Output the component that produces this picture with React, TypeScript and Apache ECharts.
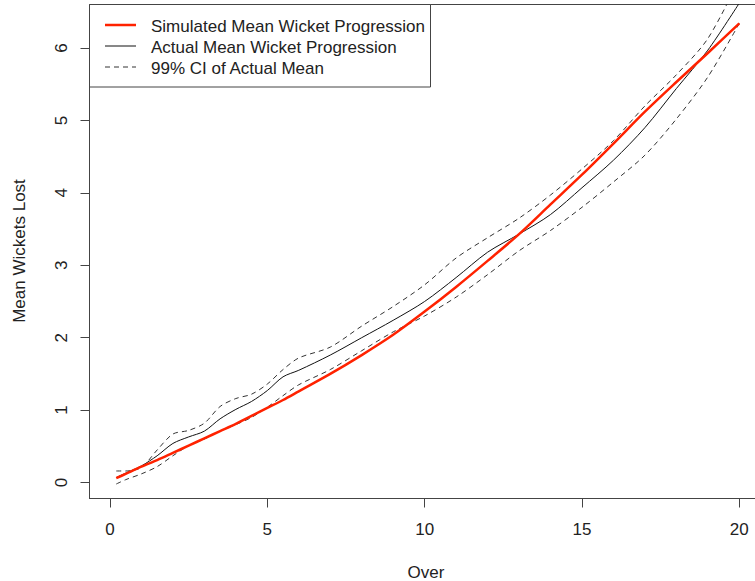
import React, { useEffect, useRef } from "react";
import * as echarts from "echarts";

const overs = [0.2, 0.5, 1, 1.5, 2, 2.5, 3, 3.5, 4, 4.5, 5, 5.5, 6, 7, 8, 9, 10, 11, 12, 13, 14, 15, 16, 17, 18, 19, 20];
const simulatedMean = [0.06, 0.12, 0.22, 0.31, 0.41, 0.51, 0.61, 0.71, 0.81, 0.92, 1.03, 1.14, 1.26, 1.5, 1.76, 2.04, 2.36, 2.7, 3.06, 3.43, 3.84, 4.25, 4.68, 5.12, 5.53, 5.93, 6.34];
const actualMean = [0.07, 0.13, 0.23, 0.37, 0.54, 0.63, 0.71, 0.88, 1.01, 1.12, 1.27, 1.46, 1.55, 1.76, 2.0, 2.24, 2.5, 2.83, 3.18, 3.43, 3.7, 4.07, 4.45, 4.9, 5.44, 5.97, 6.62];
const ciUpper = [0.16, 0.16, 0.21, 0.45, 0.67, 0.72, 0.82, 1.05, 1.16, 1.22, 1.36, 1.56, 1.72, 1.87, 2.16, 2.43, 2.73, 3.1, 3.38, 3.65, 3.97, 4.33, 4.72, 5.2, 5.63, 6.13, 6.95];
const ciLower = [-0.02, 0.04, 0.12, 0.22, 0.37, 0.51, 0.6, 0.71, 0.8, 0.9, 1.04, 1.2, 1.35, 1.56, 1.82, 2.08, 2.3, 2.56, 2.87, 3.2, 3.48, 3.8, 4.15, 4.52, 5.02, 5.6, 6.34];
const xTicks = [0, 5, 10, 15, 20];
const yTicks = [0, 1, 2, 3, 4, 5, 6];
const legendLabels = ["Simulated Mean Wicket Progression", "Actual Mean Wicket Progression", "99% CI of Actual Mean"];

const FONT = "'Liberation Sans', Arial, sans-serif";
const TXT = "#222";
const AX = "#444";

const pairs = (ys: number[]) => overs.map((x, i) => [x, ys[i]]);

export default function App() {
  const ref = useRef<HTMLDivElement>(null);
  useEffect(() => {
    if (!ref.current) return;
    const chart = echarts.init(ref.current, null, { renderer: "svg" });
    const lineSeries = (name: string, ys: number[], color: string, width: number, type: any) => ({
      name,
      type: "line",
      data: pairs(ys),
      showSymbol: false,
      symbol: "none",
      smooth: 0.3,
      lineStyle: { color, width, type },
      z: 2,
    });
    chart.setOption({
      animation: false,
      grid: {
        left: 89.5,
        top: 4.5,
        width: 675,
        height: 494,
        show: true,
        borderColor: AX,
        borderWidth: 1,
        backgroundColor: "transparent",
        outerBoundsMode: "none",
        containLabel: false,
      },
      xAxis: {
        type: "value",
        min: -0.65,
        max: 20.8,
        axisLine: { show: true, onZero: false, lineStyle: { color: AX } },
        axisTick: { show: true, inside: false, length: 9, customValues: xTicks, lineStyle: { color: AX } },
        axisLabel: { customValues: xTicks, color: TXT, fontSize: 17, fontFamily: FONT, margin: 22 },
        splitLine: { show: false },
      },
      yAxis: {
        type: "value",
        min: -0.22,
        max: 6.6,
        axisLine: { show: true, onZero: false, lineStyle: { color: AX } },
        axisTick: { show: true, inside: false, length: 9, customValues: yTicks, lineStyle: { color: AX } },
        axisLabel: { customValues: yTicks, color: TXT, fontSize: 17, fontFamily: FONT, margin: 20, rotate: 90 },
        splitLine: { show: false },
      },
      series: [
        lineSeries("upper", ciUpper, "#333", 1, [5, 4]),
        lineSeries("lower", ciLower, "#333", 1, [5, 4]),
        lineSeries("actual", actualMean, "#111", 1, "solid"),
        lineSeries("simulated", simulatedMean, "#ff2200", 2.5, "solid"),
      ],
      graphic: [
        {
          type: "rect",
          shape: { x: 89.5, y: 4.5, width: 341, height: 82.5 },
          style: { fill: "#fff", stroke: AX, lineWidth: 1 },
          z: 10,
        },
        { type: "line", shape: { x1: 105, y1: 25, x2: 136, y2: 25 }, style: { stroke: "#ff2200", lineWidth: 2.5 }, z: 11 },
        { type: "line", shape: { x1: 105, y1: 46, x2: 136, y2: 46 }, style: { stroke: "#111", lineWidth: 1 }, z: 11 },
        { type: "line", shape: { x1: 105, y1: 67, x2: 136, y2: 67 }, style: { stroke: "#333", lineWidth: 1, lineDash: [5, 4] }, z: 11 },
        ...legendLabels.map((t, i) => ({
          type: "text",
          x: 151,
          y: 26 + i * 21,
          style: { text: t, fill: TXT, font: `17px ${FONT}`, align: "left", verticalAlign: "middle" },
          z: 11,
        })),
        {
          type: "text",
          x: 426,
          y: 572,
          style: { text: "Over", fill: TXT, font: `17px ${FONT}`, align: "center", verticalAlign: "middle" },
        },
        {
          type: "text",
          x: 19,
          y: 251,
          rotation: Math.PI / 2,
          style: { text: "Mean Wickets Lost", fill: TXT, font: `17px ${FONT}`, align: "center", verticalAlign: "middle" },
        },
      ],
    });
    return () => chart.dispose();
  }, []);
  return <div ref={ref} style={{ width: 755, height: 581, position: "absolute", left: 0, top: 0 }} />;
}
